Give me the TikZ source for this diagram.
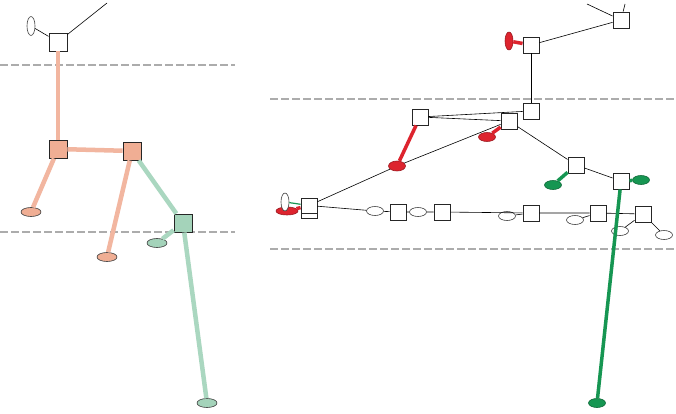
\documentclass[tikz,border=0pt]{standalone}
\usetikzlibrary{shapes.geometric}
\definecolor{salmonline}{RGB}{242,182,160}
\definecolor{salmonfill}{RGB}{240,174,148}
\definecolor{mintline}{RGB}{170,215,192}
\definecolor{mintfill}{RGB}{164,211,186}
\definecolor{redline}{RGB}{221,36,46}
\definecolor{greenline}{RGB}{22,150,82}
\definecolor{genline}{RGB}{172,172,172}
\begin{document}
\begin{tikzpicture}[x=1pt,y=-1pt,
  box/.style={draw=black!85,fill=white,rectangle,minimum size=16pt,inner sep=0pt,line width=0.9pt},
  oval/.style={draw=black!75,fill=white,ellipse,minimum width=17pt,minimum height=9pt,inner sep=0pt,line width=0.6pt},
  tall/.style={minimum width=8pt,minimum height=18pt},
  link/.style={black,line width=0.6pt},
  pale/.style={line width=4.5pt},
  bold/.style={line width=3.5pt},
  gen/.style={genline,line width=1.6pt,dash pattern=on 8pt off 3pt}]
\useasboundingbox[fill=white] (0,0) rectangle (676,414);
\draw[gen] (0,65) -- (235,65);
\draw[gen] (0,232) -- (235,232);
\draw[gen] (270,99) -- (676,99);
\draw[gen] (270,249) -- (676,249);
\node[box,minimum size=18pt] (topL) at (58,42) {};
\node[oval,tall,minimum height=19pt] (ovL) at (31,26) {};
\coordinate (offL) at (107,3);
\node[box,minimum size=18pt,fill=salmonfill] (mumL) at (58,149) {};
\node[box,minimum size=18pt,fill=salmonfill] (dadL) at (132,151) {};
\node[box,minimum size=18pt,fill=mintfill] (kidL) at (183,223) {};
\node[oval,minimum width=20pt,fill=salmonfill] (leafA) at (31,212) {};
\node[oval,minimum width=20pt,fill=salmonfill] (leafB) at (107,257) {};
\node[oval,minimum width=20pt,fill=mintfill] (leafC) at (157,243) {};
\node[oval,minimum width=20pt,fill=mintfill] (leafD) at (207,403) {};
\draw[link] (ovL) -- (topL);
\draw[link] (topL) -- (offL);
\draw[salmonline,pale] (topL) -- (mumL);
\draw[salmonline,pale] (mumL) -- (dadL);
\draw[salmonline,pale] (mumL) -- (leafA);
\draw[salmonline,pale] (dadL) -- (leafB);
\draw[mintline,pale] (dadL) -- (kidL);
\draw[mintline,pale] (kidL) -- (leafC);
\draw[mintline,pale] (kidL) -- (leafD);
\node[box] (r1) at (621,20) {};
\coordinate (off1) at (587,4);
\coordinate (off2) at (625,4);
\node[box] (r2) at (531,45) {};
\node[box] (r3) at (531,111) {};
\node[box] (r4) at (509,121) {};
\node[box] (r5) at (420,117) {};
\node[box,minimum height=15pt] (r6b) at (309,211) {};
\node[box,minimum height=15pt] (r6) at (309,205.5) {};
\node[box] (r7) at (398,212) {};
\node[box] (r8) at (442,212) {};
\node[box] (r9) at (531,213) {};
\node[box] (r10) at (598,213) {};
\node[box] (r11) at (643,214) {};
\node[box] (r12) at (576,165) {};
\node[box] (r13) at (621,181) {};
\node[oval,tall,fill=redline,draw=redline!70!black] (ovR2) at (509,41) {};
\node[oval,fill=redline,draw=redline!70!black] (ovR4) at (487,137) {};
\node[oval,minimum height=10pt,fill=redline,draw=redline!70!black] (ovR5) at (397,166) {};
\node[oval,minimum width=22pt,minimum height=8pt,fill=redline,draw=redline!70!black] (ovR6r) at (287,211) {};
\node[oval,tall] (ovR6w) at (285,202) {};
\node[oval] (e1) at (375,211) {};
\node[oval] (e2) at (418,212) {};
\node[oval] (e3) at (507,216) {};
\node[oval] (e4) at (575,220) {};
\node[oval] (e5) at (620,231) {};
\node[oval] (e6) at (664,235) {};
\node[oval,fill=greenline,draw=greenline!70!black] (ovR12) at (553,185) {};
\node[oval,fill=greenline,draw=greenline!70!black] (ovR13) at (641,180) {};
\node[oval,fill=greenline,draw=greenline!70!black] (ovLow) at (597,403) {};
\draw[link] (r1) -- (off1);
\draw[link] (r1) -- (off2);
\draw[link] (r1) -- (r2);
\draw[link] (r2) -- (r3);
\draw[link] (r5) -- (r3);
\draw[link] (r5) -- (r4);
\draw[link] (r6) -- (ovR5) -- (r4);
\draw[link] (r4) -- (r12);
\draw[link] (r12) -- (r13);
\draw[link] (r6) -- (e1) -- (r7) -- (e2) -- (r8) -- (r9) -- (r10) -- (r11);
\draw[link] (e3) -- (r9);
\draw[link] (e4) -- (r10);
\draw[link] (r11) -- (e5);
\draw[link] (r11) -- (e6);
\draw[redline,bold] (ovR2) -- (r2);
\draw[redline,bold] (ovR4) -- (r4);
\draw[redline,bold] (ovR5) -- (r5);
\draw[redline,bold] (ovR6r) -- (r6);
\draw[greenline,line width=1.2pt] (ovR6w) -- (r6);
\draw[greenline,bold] (ovR12) -- (r12);
\draw[greenline,bold] (ovR13) -- (r13);
\draw[greenline,bold] (r13) -- (ovLow);
\end{tikzpicture}
\end{document}
